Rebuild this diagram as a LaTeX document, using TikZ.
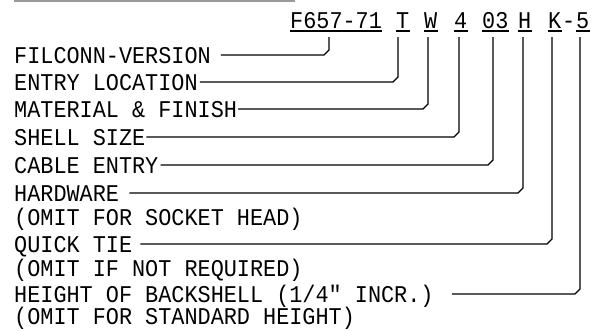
\documentclass[tikz,border=0pt]{standalone}
\usepackage{fontspec}
\newfontfamily\cadfont{Liberation Mono}[FakeStretch=0.91]
\usetikzlibrary{calc}
\begin{document}
\begin{tikzpicture}[x=1pt,y=-1pt,
  lbl/.style={anchor=base west,inner sep=0pt,font=\cadfont\fontsize{24pt}{24pt}\selectfont},
  code/.style={anchor=base west,inner sep=0pt,font=\cadfont\fontsize{24pt}{24pt}\selectfont},
  leader/.style={line width=1.1pt,line join=miter},
  uline/.style={line width=1.1pt}]
\useasboundingbox (0,0) rectangle (593,330);
\draw[line width=1.2pt,color=black!40] (14,1) -- (295,1);
% labels
\node[lbl] (l1) at (14,63) {FILCONN-VERSION};
\node[lbl] (l2) at (14,90) {ENTRY LOCATION};
\node[lbl] (l3) at (14,117) {MATERIAL \& FINISH};
\node[lbl] (l4) at (14,145) {SHELL SIZE};
\node[lbl] (l5) at (14,173) {CABLE ENTRY};
\node[lbl] (l6) at (14,201) {HARDWARE};
\node[lbl] (l6b) at (14,225) {(OMIT FOR SOCKET HEAD)};
\node[lbl] (l7) at (14,252) {QUICK TIE};
\node[lbl] (l7b) at (14,276) {(OMIT IF NOT REQUIRED)};
\node[lbl] (l8) at (14,302) {HEIGHT OF BACKSHELL (1/4" INCR.)};
\node[lbl] (l8b) at (14,324) {(OMIT FOR STANDARD HEIGHT)};
% code parts
\node[code] (c1) at (290,28) {F657-71};
\node[code] (c2) at (396,28) {T};
\node[code] (c3) at (424,28) {W};
\node[code] (c4) at (454,28) {4};
\node[code] (c5) at (482,28) {03};
\node[code] (c6) at (518,28) {H};
\node[code] (c7) at (548,28) {K};
\node[code] (cd) at (562,28) {-};
\node[code] (c8) at (576,28) {5};
\foreach \c in {c1,c2,c3,c4,c5,c6,c7,c8}
  \draw[uline] ($(\c.base west)+(0,3)$) -- ($(\c.base east)+(0,3)$);
% leader tops
\coordinate (p1) at (329,37);
\coordinate (p2) at (398,37);
\coordinate (p3) at (428,37);
\coordinate (p4) at (459,37);
\coordinate (p5) at (493,37);
\coordinate (p6) at (523,37);
\coordinate (p7) at (552,37);
\coordinate (p8) at (580,37);
% leader ends at labels
\coordinate (e1) at ($(l1.base east)+(10,-8)$);
\coordinate (e2) at ($(l2.base east)+(2,-8)$);
\coordinate (e3) at ($(l3.base east)+(1,-8)$);
\coordinate (e4) at ($(l4.base east)+(1,-8)$);
\coordinate (e5) at ($(l5.base east)+(2,-8)$);
\coordinate (e6) at ($(l6.base east)+(10,-8)$);
\coordinate (e7) at ($(l7.base east)+(8,-8)$);
\coordinate (e8) at ($(l8.base east)+(18,-8)$);
\foreach \i in {1,...,8}
  \draw[leader] (p\i) -- ($(p\i |- e\i)+(0,-5)$) -- ($(p\i |- e\i)+(-5,0)$) -- (e\i);
\end{tikzpicture}
\end{document}
